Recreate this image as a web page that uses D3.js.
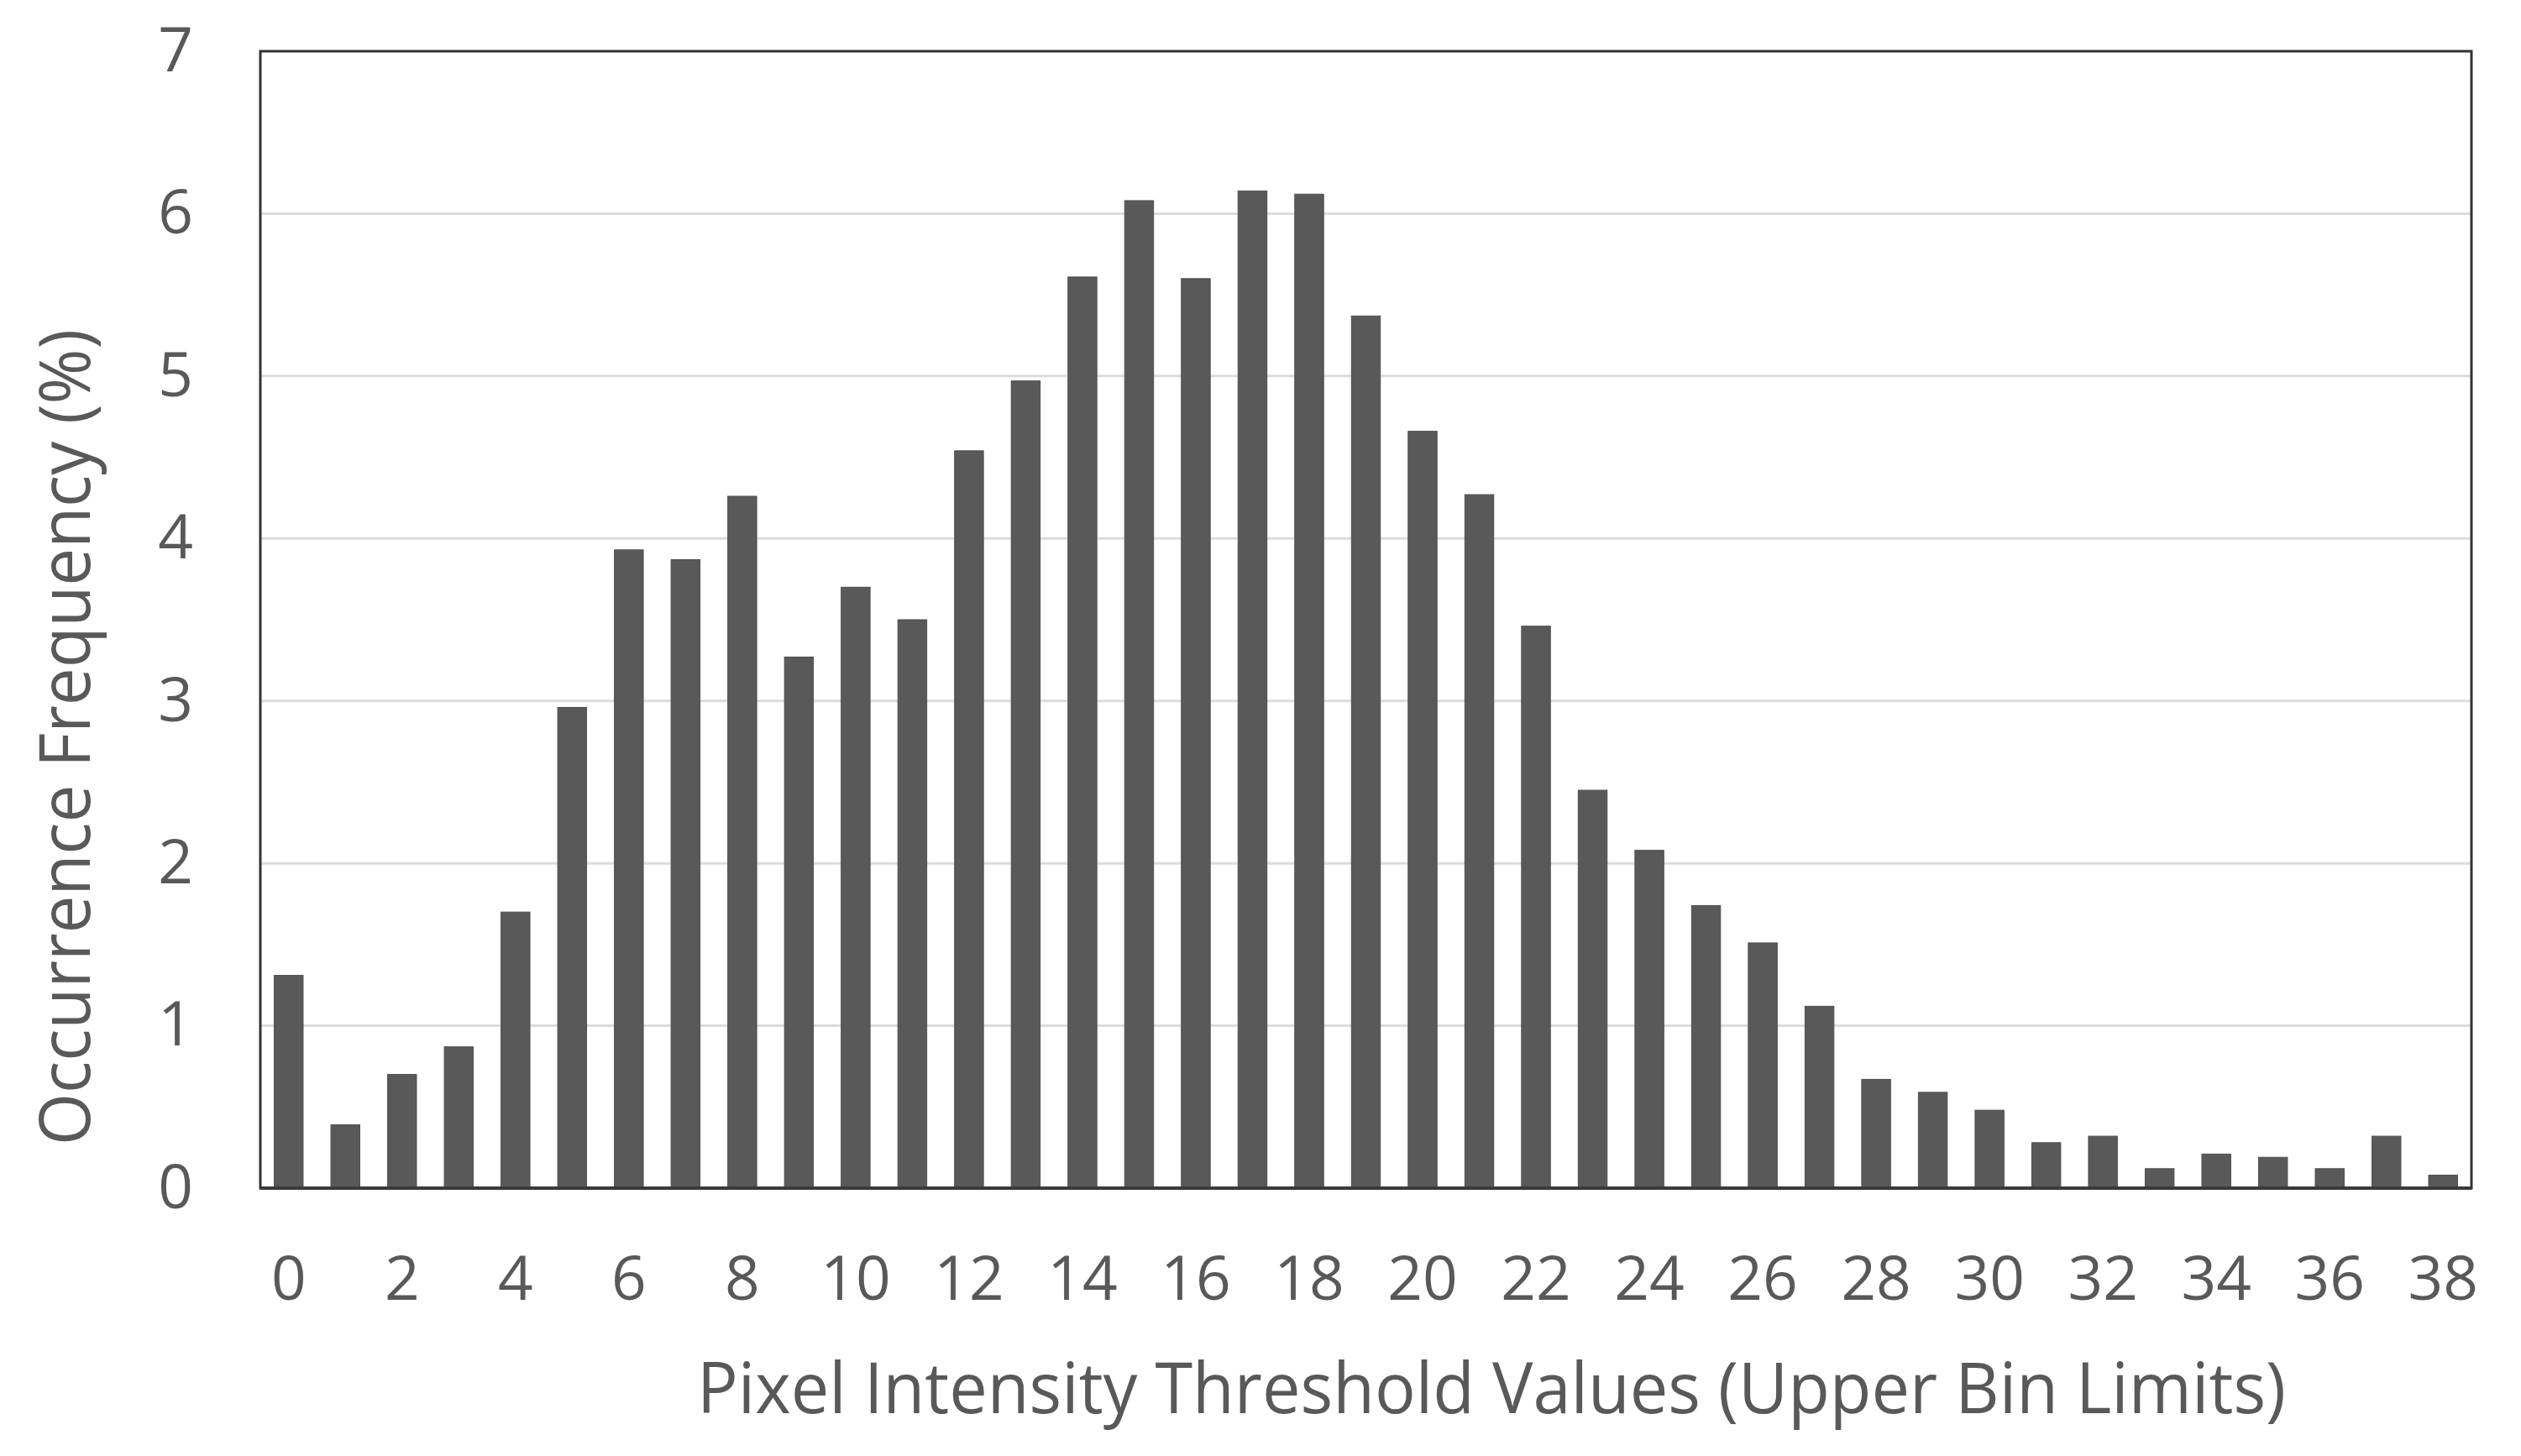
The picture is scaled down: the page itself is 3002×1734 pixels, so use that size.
<!DOCTYPE html>
<html>
<head>
<meta charset="utf-8">
<script src="https://cdn.jsdelivr.net/npm/d3@7"></script>
<style>
  html, body { margin: 0; padding: 0; background: #ffffff; }
  svg { display: block; }
</style>
</head>
<body>
<svg id="chart" width="3002" height="1734"></svg>
<script>
// ---- data ----
const categories = d3.range(0, 39).map(String);
const values = [1.31, 0.39, 0.70, 0.87, 1.70, 2.96, 3.93, 3.87, 4.26, 3.27,
                3.70, 3.50, 4.54, 4.97, 5.61, 6.08, 5.60, 6.14, 6.12, 5.37,
                4.66, 4.27, 3.46, 2.45, 2.08, 1.74, 1.51, 1.12, 0.67, 0.59,
                0.48, 0.28, 0.32, 0.12, 0.21, 0.19, 0.12, 0.32, 0.08];
const xTickLabels = d3.range(0, 39, 2).map(String);
const yTicks = [0, 1, 2, 3, 4, 5, 6, 7];
const xTitle = "Pixel Intensity Threshold Values (Upper Bin Limits)";
const yTitle = "Occurrence Frequency (%)";

// ---- layout ----
const plot = { left: 310, right: 2943, top: 61, bottom: 1415 };
const textColor = "#595959";
const font = "'Open Sans', sans-serif";

const svg = d3.select("#chart");

const x = d3.scaleBand()
  .domain(categories)
  .range([plot.left, plot.right])
  .paddingInner(0.49)
  .paddingOuter(0.245);

const y = d3.scaleLinear()
  .domain([0, 7])
  .range([plot.bottom, plot.top]);

// gridlines
svg.append("g")
  .selectAll("line")
  .data(yTicks.filter(t => t > 0 && t < 7))
  .join("line")
  .attr("x1", plot.left)
  .attr("x2", plot.right)
  .attr("y1", d => y(d))
  .attr("y2", d => y(d))
  .attr("stroke", "#dcdcdc")
  .attr("stroke-width", 3);

// bars
svg.append("g")
  .selectAll("rect")
  .data(values)
  .join("rect")
  .attr("x", (d, i) => x(categories[i]))
  .attr("width", x.bandwidth())
  .attr("y", d => y(d))
  .attr("height", d => y(0) - y(d))
  .attr("fill", "#595959")
  .attr("stroke", "#4f4f4f")
  .attr("stroke-width", 1);

// plot frame
svg.append("rect")
  .attr("x", plot.left)
  .attr("y", plot.top)
  .attr("width", plot.right - plot.left)
  .attr("height", plot.bottom - plot.top)
  .attr("fill", "none")
  .attr("stroke", "#333333")
  .attr("stroke-width", 3);

// baseline
svg.append("line")
  .attr("x1", plot.left).attr("x2", plot.right)
  .attr("y1", y(0)).attr("y2", y(0))
  .attr("stroke", "#3a3a3a")
  .attr("stroke-width", 4);

// y axis
const yAxis = svg.append("g")
  .attr("transform", `translate(${plot.left},0)`)
  .call(d3.axisLeft(y).tickValues(yTicks).tickSize(0).tickPadding(80).tickFormat(d3.format("d")));
yAxis.select(".domain").remove();
yAxis.selectAll("text")
  .attr("fill", textColor)
  .style("font-family", font)
  .style("font-size", "73px");

// x axis
const xAxis = svg.append("g")
  .attr("transform", `translate(0,${plot.bottom})`)
  .call(d3.axisBottom(x).tickValues(xTickLabels).tickSize(0).tickPadding(81));
xAxis.select(".domain").remove();
xAxis.selectAll("text")
  .attr("fill", textColor)
  .style("font-family", font)
  .style("font-size", "73px");

// axis titles
svg.append("text")
  .attr("x", 1776)
  .attr("y", 1683)
  .attr("text-anchor", "middle")
  .attr("textLength", 1892)
  .attr("lengthAdjust", "spacingAndGlyphs")
  .attr("fill", textColor)
  .style("font-family", font)
  .style("font-size", "84px")
  .text(xTitle);

svg.append("text")
  .attr("transform", "translate(107,878) rotate(-90)")
  .attr("text-anchor", "middle")
  .attr("textLength", 972)
  .attr("lengthAdjust", "spacingAndGlyphs")
  .attr("fill", textColor)
  .style("font-family", font)
  .style("font-size", "84px")
  .text(yTitle);
</script>
</body>
</html>
